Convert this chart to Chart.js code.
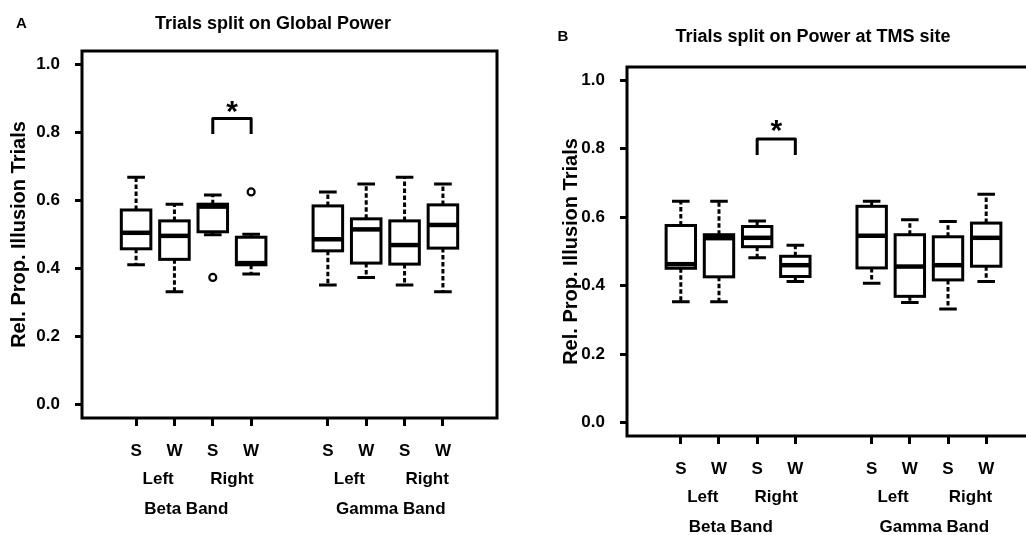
<!DOCTYPE html>
<html><head><meta charset="utf-8">
<script src="https://cdn.jsdelivr.net/npm/chart.js@4.4.1/dist/chart.umd.min.js"></script>
<style>
html,body{margin:0;padding:0;background:#fff;overflow:hidden;width:1026px;height:535px;}
canvas{position:absolute;top:0;}
</style></head><body>
<canvas id="cA" width="513" height="535" style="left:0"></canvas>
<canvas id="cB" width="547" height="535" style="left:513px"></canvas>
<script>
// ---- data ----
const categories = ['S','W','S','W','S','W','S','W'];
const xPositions = [1,2,3,4,6,7,8,9];
const yTickValues = [0,0.2,0.4,0.6,0.8,1.0];
const sideLabels = ['Left','Right','Left','Right'];
const sidePositions = [1.575,3.5,6.56,8.59];
const bandLabels = ['Beta Band','Gamma Band'];
const bandPositions = [2.31,7.64];
const yTitle = 'Rel. Prop. Illusion Trials';

// Panel A: Trials split on Global Power
const aLow  = [0.411,0.332,0.499,0.384,0.352,0.374,0.352,0.332];
const aQ1   = [0.458,0.427,0.508,0.411,0.452,0.416,0.413,0.460];
const aMed  = [0.505,0.496,0.582,0.416,0.486,0.515,0.469,0.528];
const aQ3   = [0.572,0.540,0.589,0.492,0.584,0.546,0.540,0.587];
const aHigh = [0.668,0.589,0.616,0.501,0.625,0.648,0.668,0.648];
const aOutX = [3,4];
const aOutY = [0.374,0.625];
const aSig  = [3,4,0.841,0.795,0.875]; // x1, x2, bracket top, leg end, star

// Panel B: Trials split on Power at TMS site
const bLow  = [0.353,0.353,0.482,0.412,0.407,0.351,0.332,0.412];
const bQ1   = [0.451,0.426,0.514,0.427,0.452,0.369,0.417,0.457];
const bMed  = [0.463,0.539,0.540,0.460,0.546,0.456,0.460,0.540];
const bQ3   = [0.576,0.549,0.573,0.486,0.632,0.549,0.543,0.583];
const bHigh = [0.647,0.647,0.589,0.518,0.647,0.593,0.588,0.667];
const bOutX = [];
const bOutY = [];
const bSig  = [3,4,0.829,0.782,0.868];

const FONT = '"Liberation Sans", Arial, Helvetica, sans-serif';

function txt(ctx, s, cx, cy, size, rot){
  ctx.save();
  ctx.font = 'bold ' + size + 'px ' + FONT;
  ctx.fillStyle = '#000';
  ctx.textAlign = 'center';
  ctx.textBaseline = 'alphabetic';
  ctx.translate(cx, cy);
  if (rot) ctx.rotate(rot);
  ctx.fillText(s, 0, size*0.716/2);
  ctx.restore();
}

function makePlugin(p){
  return {
    id: 'boxes',
    afterDatasetsDraw(chart){
      const ctx = chart.ctx, xs = chart.scales.x, ys = chart.scales.y, ca = chart.chartArea;
      ctx.save();
      ctx.strokeStyle = '#000';
      // frame
      ctx.lineWidth = 3;
      ctx.strokeRect(ca.left, ca.top, ca.right - ca.left, ca.bottom - ca.top);
      // boxes
      for (let i = 0; i < xPositions.length; i++){
        const pos = xPositions[i];
        const xc = xs.getPixelForValue(pos);
        const xl = xs.getPixelForValue(pos - 0.385), xr = xs.getPixelForValue(pos + 0.385);
        const cl = xs.getPixelForValue(pos - 0.23), cr = xs.getPixelForValue(pos + 0.23);
        const yLo = ys.getPixelForValue(p.low[i]), yQ1 = ys.getPixelForValue(p.q1[i]);
        const yMd = ys.getPixelForValue(p.med[i]), yQ3 = ys.getPixelForValue(p.q3[i]);
        const yHi = ys.getPixelForValue(p.high[i]);
        ctx.lineWidth = 3;
        ctx.lineCap = 'butt';
        ctx.setLineDash([4.5,2.5]);
        ctx.beginPath();
        ctx.moveTo(xc, yQ3); ctx.lineTo(xc, yHi);
        ctx.moveTo(xc, yQ1); ctx.lineTo(xc, yLo);
        ctx.stroke();
        ctx.setLineDash([]);
        ctx.beginPath();
        ctx.moveTo(cl, yHi); ctx.lineTo(cr, yHi);
        ctx.moveTo(cl, yLo); ctx.lineTo(cr, yLo);
        ctx.stroke();
        ctx.fillStyle = '#fff';
        ctx.fillRect(xl, yQ3, xr - xl, yQ1 - yQ3);
        ctx.strokeRect(xl, yQ3, xr - xl, yQ1 - yQ3);
        ctx.lineWidth = 4.5;
        ctx.beginPath();
        ctx.moveTo(xl, yMd); ctx.lineTo(xr, yMd);
        ctx.stroke();
      }
      // significance bracket
      const s = p.sig;
      const x1 = xs.getPixelForValue(s[0]), x2 = xs.getPixelForValue(s[1]);
      const yT = ys.getPixelForValue(s[2]), yL = ys.getPixelForValue(s[3]);
      ctx.lineWidth = 3; ctx.lineJoin = 'round';
      ctx.beginPath();
      ctx.moveTo(x1, yL); ctx.lineTo(x1, yT); ctx.lineTo(x2, yT); ctx.lineTo(x2, yL);
      ctx.stroke();
      // star, centred on its glyph box
      ctx.font = 'bold 30px ' + FONT;
      const m = ctx.measureText('*');
      const sx = (x1 + x2)/2, sy = ys.getPixelForValue(s[4]);
      ctx.fillStyle = '#000'; ctx.textAlign = 'center'; ctx.textBaseline = 'alphabetic';
      ctx.fillText('*', sx, sy + (m.actualBoundingBoxAscent - m.actualBoundingBoxDescent)/2);
      ctx.restore();
      // labels
      for (let i = 0; i < sideLabels.length; i++)
        txt(ctx, sideLabels[i], xs.getPixelForValue(sidePositions[i]), ca.bottom + 59.7, 17);
      for (let i = 0; i < bandLabels.length; i++)
        txt(ctx, bandLabels[i], xs.getPixelForValue(bandPositions[i]), ca.bottom + 89.7, 17);
      txt(ctx, p.title, p.titleX, p.titleY, 18);
      txt(ctx, p.letter, p.letterX, p.letterY, 15);
      txt(ctx, yTitle, p.yTitleX, (ca.top + ca.bottom)/2, 20, -Math.PI/2);
    }
  };
}

function makeChart(id, p){
  return new Chart(document.getElementById(id), {
    type: 'scatter',
    data: { datasets: [{
      data: p.outX.map((x, i) => ({x: x, y: p.outY[i]})),
      pointRadius: 3.5, pointBorderWidth: 2.2, borderColor: '#000', backgroundColor: '#fff'
    }]},
    options: {
      responsive: false, animation: false, events: [],
      layout: { padding: p.pad },
      plugins: { legend: {display:false}, tooltip: {enabled:false} },
      scales: {
        x: {
          type: 'linear', min: -0.41, max: 10.41,
          afterBuildTicks: sc => { sc.ticks = xPositions.map(v => ({value: v})); },
          afterFit: sc => { sc.height = p.xH; },
          ticks: { callback: v => categories[xPositions.indexOf(v)], color: '#000',
                   font: {family: FONT, size: 17, weight: 'bold'}, padding: 15, maxRotation: 0, autoSkip: false },
          grid: { drawOnChartArea: false, drawTicks: true, tickLength: 8, tickWidth: 3, tickColor: '#000' },
          border: { display: false }
        },
        y: {
          type: 'linear', min: -0.039, max: 1.039,
          afterBuildTicks: sc => { sc.ticks = yTickValues.map(v => ({value: v})); },
          afterFit: sc => { sc.width = p.yW; },
          ticks: { callback: v => v.toFixed(1), color: '#000',
                   font: {family: FONT, size: 17, weight: 'bold'}, padding: 15 },
          grid: { drawOnChartArea: false, drawTicks: true, tickLength: 7, tickWidth: 3, tickColor: '#000' },
          border: { display: false }
        }
      }
    },
    plugins: [makePlugin(p)]
  });
}

makeChart('cA', {
  low: aLow, q1: aQ1, med: aMed, q3: aQ3, high: aHigh, outX: aOutX, outY: aOutY, sig: aSig,
  title: 'Trials split on Global Power', titleX: 273, titleY: 23,
  letter: 'A', letterX: 21.5, letterY: 23, yTitleX: 18,
  pad: {left: 0, top: 51, right: 16, bottom: 0}, yW: 82, xH: 117
});
makeChart('cB', {
  low: bLow, q1: bQ1, med: bMed, q3: bQ3, high: bHigh, outX: bOutX, outY: bOutY, sig: bSig,
  title: 'Trials split on Power at TMS site', titleX: 300, titleY: 36,
  letter: 'B', letterX: 50, letterY: 36, yTitleX: 57,
  pad: {left: 0, top: 67, right: 20, bottom: 0}, yW: 114, xH: 99
});
</script>
</body></html>
